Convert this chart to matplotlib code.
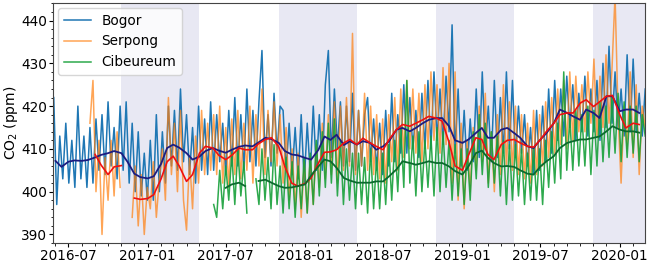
import numpy as np
import pandas as pd
import matplotlib
matplotlib.use('Agg')
import matplotlib.pyplot as plt
import matplotlib.dates as mdates
from matplotlib.ticker import MultipleLocator

nan = np.nan

# weekly values (7-day steps), one row = 4 weeks
bogor_start = '2016-05-28'
bogor = [
    422, 397, 413, 403,  # 2016-05-28
    416, 402, 412, 401,
    420, 403, 413, 401,
    415, 402, 417, 405,
    418, 404, 421, 406,
    415, 403, 420, 405,
    421, 402, 416, 400,
    414, 399, 409, 398,
    412, 398, 418, 400,  # 2017-01-07
    414, 402, 420, 406,
    419, 405, 424, 407,
    418, 404, 415, 402,
    420, 405, 417, 404,
    421, 405, 418, 407,
    416, 404, 419, 406,
    422, 406, 418, 405,
    424, 407, 419, 406,
    421, 433, 408, 418,
    406, 423, 409, 420,
    419, 405, 416, 404,
    415, 403, 418, 402,
    416, 404, 420, 405,  # 2018-01-06
    418, 405, 425, 433,
    408, 424, 410, 421,
    406, 420, 407, 423,
    405, 419, 406, 418,
    422, 407, 417, 405,
    416, 404, 419, 406,
    423, 407, 418, 409,
    425, 409, 422, 410,
    419, 408, 423, 410,
    426, 410, 428, 412,
    424, 411, 427, 414,
    439, 409, 424, 406,
    419, 405, 417, 407,  # 2019-01-05
    424, 408, 428, 410,
    420, 407, 426, 408,
    422, 409, 428, 410,
    426, 408, 420, 409,
    418, 406, 415, 404,
    419, 405, 420, 407,
    424, 409, 426, 412,
    424, 413, 427, 415,
    425, 412, 423, 414,
    427, 413, 424, 414,
    426, 412, 430, 415,
    434, 416, 428, 415,
    424, 413, 432, 414,  # 2020-01-04
    431, 414, 423, 413,
    424,
]

serpong_start = '2016-08-20'
serpong = [
    416, 426, 400, 412,  # 2016-08-20
    390, 408, 398, 412,
    399, 414, 401, nan,
    nan, nan, 394, 406,
    392, 404, 390, 401,
    396, 407, 394, 403,  # 2017-01-07
    410, 398, 422, 404,
    416, 400, 419, 398,
    391, 408, 396, 413,
    402, 419, 404, 416,
    405, 418, 404, 420,
    402, 415, 401, 417,
    404, 419, 403, 416,
    405, 420, 402, 418,
    406, 424, 404, 419,
    407, 421, 406, 418,
    402, 415, 398, 410,
    396, 409, 394, 407,
    395, 408, 397, 411,  # 2018-01-06
    401, 416, 403, 418,
    404, 421, 402, 420,
    405, 422, 406, 437,
    404, 419, 406, 423,
    405, 420, 404, 418,
    403, 417, 402, 418,
    407, 422, 405, 424,
    408, 426, 410, 424,
    409, 423, 407, 425,
    410, 428, 412, 425,
    409, 429, 411, 430,
    402, 428, 398, 416,
    396, 412, 400, 415,  # 2019-01-05
    405, 420, 407, 423,
    402, 414, 400, 418,
    404, 425, 406, 421,
    405, 420, 404, 418,
    403, 416, 402, 419,
    404, 418, 406, 421,
    408, 422, 409, 424,
    411, 426, 410, 428,
    412, 427, 414, 425,
    414, 428, 416, 431,
    413, 427, 415, 432,
    416, 429, 446, 418,
    402, 420, 410, 428,  # 2020-01-04
    408, 425, 404, 420,
    415,
]

cibeureum_start = '2017-05-27'
cibeureum = [
    nan, 397, 394, 405,  # 2017-05-27
    396, 406, 398, 409,
    397, 410, 399, 407,
    395, nan, nan, 403,
    397, 410, 398, 408,
    396, 411, 397, 406,
    395, 408, 396, 407,
    394, 406, 396, 408,
    395, 409, 397, 412,  # 2018-01-06
    399, 414, 401, 416,
    402, 417, 399, 412,
    397, 410, 398, 409,
    396, 409, 397, 408,
    395, 410, 396, 408,
    396, 409, 397, 411,
    398, 412, 400, 415,
    401, 426, 402, 413,
    399, 414, 400, 412,
    401, 413, 399, 415,
    400, 414, 401, 412,
    398, 411, 399, 410,
    397, 410, 398, 414,  # 2019-01-05
    403, 418, 404, 416,
    401, 414, 402, 413,
    399, 412, 397, 411,
    398, 411, 399, 410,
    397, 409, 398, 410,
    398, 410, 397, 412,
    401, 414, 402, 416,
    403, 428, 405, 417,
    405, 419, 406, 418,
    406, 420, 404, 419,
    406, 421, 407, 420,
    408, 422, 409, 423,
    407, 421, 408, 420,  # 2020-01-04
    409, 420, 407, 418,
    413,
]

# smoothed series, values on the 1st and 15th of each month
bogor_ma_start = '2016-06-01'
bogor_ma = [
    407.2, 405.8, 407.0, 407.3, 407.2, 407.4, 408.0, 408.6, 409.0, 409.5, 409.0, 407.0, 404.2, 403.4,
    403.1, 403.6, 406.5, 410.2, 411.0, 410.3, 409.0, 407.5, 408.2, 409.5, 410.2, 409.6,
    409.1, 409.8, 410.5, 410.8, 410.6, 411.5, 412.6, 412.3, 411.4, 409.5, 408.7, 408.5,
    407.9, 407.5, 409.8, 412.9, 412.1, 413.3, 410.9, 411.8, 411.0, 411.8, 411.4, 409.8,
    410.6, 411.8, 414.5, 414.9, 414.1, 414.9, 416.0, 416.8, 417.2, 417.2, 415.3, 412.0,
    411.4, 412.2, 413.7, 414.9, 412.6, 412.6, 414.5, 414.9, 413.7, 412.6, 410.6, 410.2,
    412.2, 413.7, 416.0, 419.2, 418.4, 417.6, 416.8, 419.2, 418.4, 417.2, 422.3, 422.3,
    418.8, 419.2, 419.2, 418.4,
]

serpong_ma_start = '2016-09-01'
serpong_ma = [
    408.7, 406.2, 404.0, 405.8, 406.1, nan, 398.5, 398.2,
    398.4, 399.3, 403.0, 407.0, 408.3, 406.0, 402.4, 404.0, 409.0, 410.6, 410.2, 408.5,
    407.5, 408.5, 410.2, 409.8, 409.8, 411.2, 412.2, 412.6, 410.5, 405.9, 402.0, 401.3,
    401.9, 403.2, 406.7, 409.2, 409.3, 409.8, 411.4, 412.2, 411.0, 412.5, 411.4, 410.6,
    409.8, 412.2, 414.5, 415.7, 415.3, 416.0, 416.8, 417.6, 417.2, 416.5, 411.5, 406.0,
    405.0, 408.5, 412.6, 412.2, 408.7, 407.5, 411.0, 412.0, 412.2, 411.4, 410.6, 410.4,
    412.2, 414.1, 416.0, 418.0, 418.4, 418.4, 420.7, 421.5, 419.9, 421.0, 422.3, 422.5,
    418.0, 414.9, 416.0, 415.7,
]

cibeureum_ma_start = '2017-07-01'
cibeureum_ma = [
    400.9, 401.7, 402.1, 401.3, nan, 402.5, 402.8, 402.1, 401.3, 400.9, 401.0, 401.3,
    401.7, 403.8, 405.9, 407.5, 407.1, 405.6, 403.2, 402.6, 402.1, 402.1, 402.1, 402.4,
    402.4, 403.6, 405.2, 407.1, 406.7, 406.3, 406.7, 407.1, 406.7, 406.7, 405.9, 404.8,
    404.0, 405.9, 409.0, 409.6, 407.9, 406.7, 405.9, 406.0, 405.8, 405.0, 404.2, 404.0,
    405.9, 407.1, 408.3, 410.2, 411.4, 411.8, 412.2, 412.2, 412.6, 412.9, 414.1, 415.3,
    414.5, 414.1, 414.1, 413.8,
]

# Nov-Apr periods shaded
shade_start = ['2016-11-01', '2017-11-01', '2018-11-01', '2019-11-01']
shade_end = ['2017-05-01', '2018-05-01', '2019-05-01', '2020-05-01']


def weekly(start, vals):
    return pd.Series(vals, index=pd.date_range(start, periods=len(vals), freq='7D'))


def semimonthly(start, vals):
    return pd.Series(vals, index=pd.date_range(start, periods=len(vals), freq='SMS'))


plt.rcParams['font.family'] = ['DejaVu Sans']
fig, ax = plt.subplots(figsize=(6.5, 2.65), dpi=100)
fig.subplots_adjust(left=0.082, right=0.992, bottom=0.083, top=0.987)

for s, e in zip(shade_start, shade_end):
    ax.axvspan(pd.Timestamp(s), pd.Timestamp(e), color='#e8e8f3', lw=0, zorder=0)

b = weekly(bogor_start, bogor)
s = weekly(serpong_start, serpong)
c = weekly(cibeureum_start, cibeureum)
ax.plot(b.index, b.values, color='#1f77b4', lw=1.1, label='Bogor')
ax.plot(s.index, s.values, color='#ff7f0e', lw=1.1, alpha=0.7, label='Serpong')
ax.plot(c.index, c.values, color='#17a03a', lw=1.1, alpha=0.9, label='Cibeureum')

bm = semimonthly(bogor_ma_start, bogor_ma)
sm = semimonthly(serpong_ma_start, serpong_ma)
cm = semimonthly(cibeureum_ma_start, cibeureum_ma)
ax.plot(bm.index, bm.values, color='#1c1c80', lw=1.3)
ax.plot(sm.index, sm.values, color='#f01010', lw=1.2)
ax.plot(cm.index, cm.values, color='#0b6a2e', lw=1.3)

ax.set_xlim(pd.Timestamp('2016-05-27'), pd.Timestamp('2020-02-28'))
ax.set_ylim(388, 444)
ax.yaxis.set_major_locator(MultipleLocator(10))
ax.yaxis.set_minor_locator(MultipleLocator(2))
ax.xaxis.set_major_locator(mdates.MonthLocator(bymonth=[1, 7]))
ax.xaxis.set_minor_locator(mdates.MonthLocator())
ax.xaxis.set_major_formatter(mdates.DateFormatter('%Y-%m'))
ax.tick_params(labelsize=9.8, length=3, pad=1.5)
ax.tick_params(which='minor', length=1.8)
ax.set_ylabel('CO$_2$ (ppm)', fontsize=10, labelpad=1)
for sp in ax.spines.values():
    sp.set_color('#444444')

ax.legend(loc='upper left', fontsize=9.8, borderaxespad=0.35)

plt.savefig('out.png', dpi=100)
